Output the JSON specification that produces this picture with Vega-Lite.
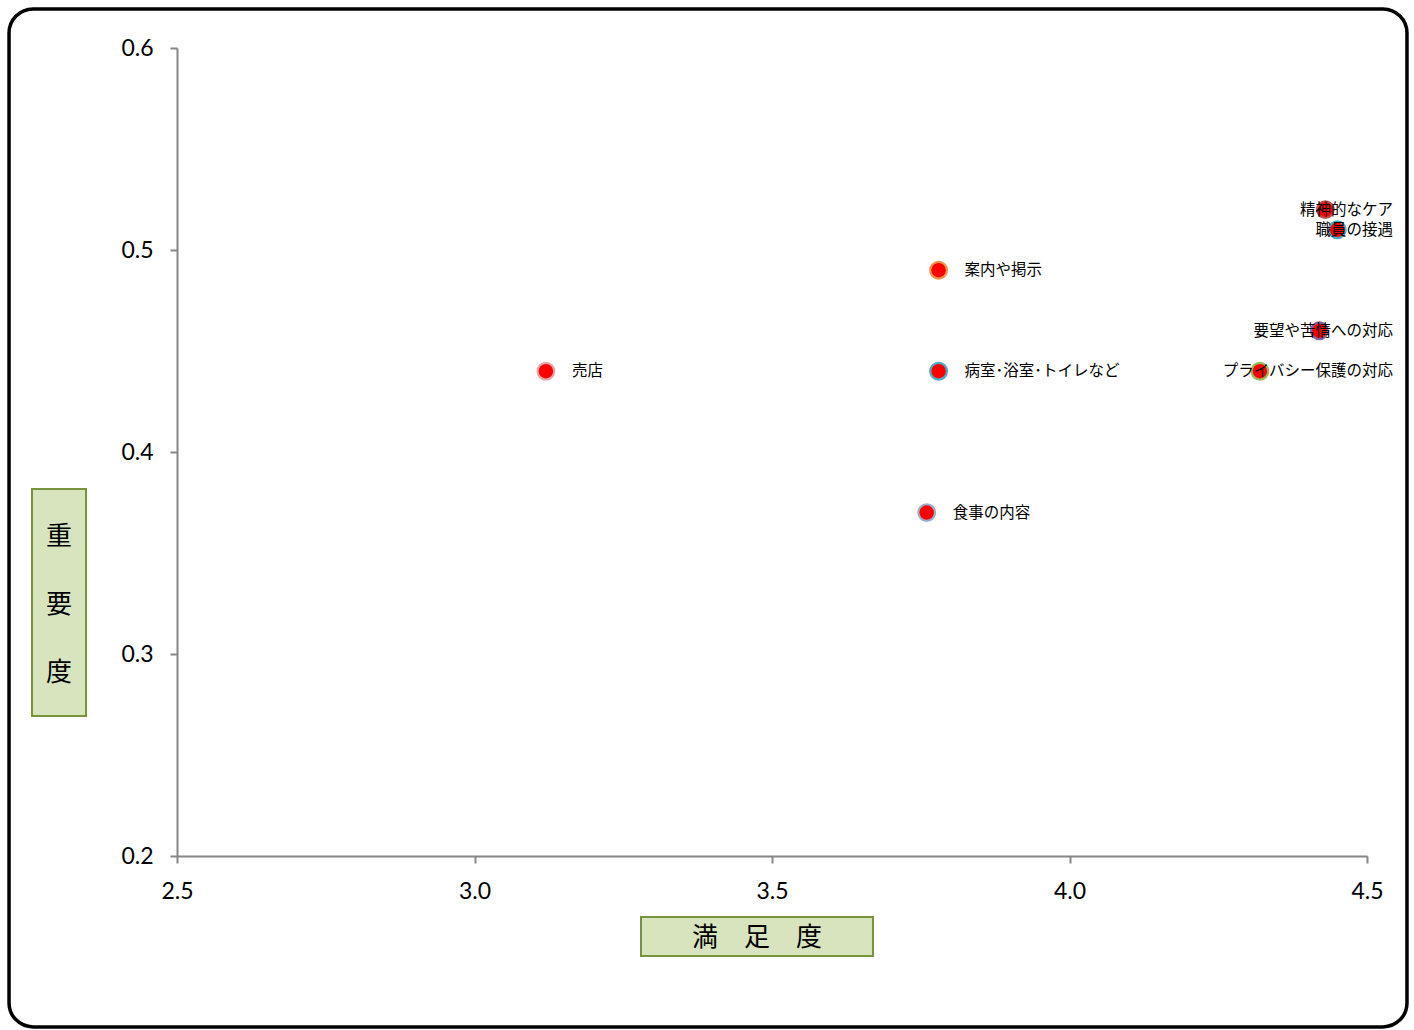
{
  "$schema": "https://vega.github.io/schema/vega-lite/v6.json",
  "width": 1190,
  "height": 808,
  "autosize": {"type": "none"},
  "padding": {"left": 177, "top": 48, "right": 47, "bottom": 174},
  "background": "white",
  "config": {
    "view": {"stroke": null},
    "axis": {
      "grid": false,
      "domainColor": "#868686",
      "domainWidth": 2,
      "tickColor": "#868686",
      "tickWidth": 2,
      "tickSize": 7,
      "labelFont": "Lato",
      "labelFontSize": 23,
      "labelColor": "#000000",
      "labelFlush": false,
      "labelOverlap": false
    }
  },
  "data": {
    "values": [
      {"item": "食事の内容", "satisfaction": 3.76, "importance": 0.37},
      {"item": "売店", "satisfaction": 3.12, "importance": 0.44},
      {"item": "精神的なケア", "satisfaction": 4.43, "importance": 0.52},
      {"item": "職員の接遇", "satisfaction": 4.45, "importance": 0.51},
      {"item": "要望や苦情への対応", "satisfaction": 4.42, "importance": 0.46},
      {"item": "プライバシー保護の対応", "satisfaction": 4.32, "importance": 0.44},
      {"item": "案内や掲示", "satisfaction": 3.78, "importance": 0.49},
      {"item": "病室･浴室･トイレなど", "satisfaction": 3.78, "importance": 0.44}
    ]
  },
  "layer": [
    {
      "data": {"values": [{}]},
      "mark": {"type": "rect", "fill": null, "stroke": "#000000", "strokeWidth": 3.5, "cornerRadius": 24},
      "encoding": {
        "x": {"datum": 2.2177, "type": "quantitative", "title": null},
        "x2": {"datum": 4.5672},
        "y": {"datum": 0.6193, "type": "quantitative", "title": null},
        "y2": {"datum": 0.1154}
      }
    },
    {
      "data": {"values": [{}]},
      "mark": {"type": "rect", "fill": "#d7e4bd", "stroke": "#77933c", "strokeWidth": 2},
      "encoding": {
        "x": {"datum": 3.2798, "type": "quantitative", "title": null},
        "x2": {"datum": 3.6697},
        "y": {"datum": 0.1698, "type": "quantitative", "title": null},
        "y2": {"datum": 0.1505}
      }
    },
    {
      "data": {"values": [{}]},
      "mark": {"type": "rect", "fill": "#d7e4bd", "stroke": "#77933c", "strokeWidth": 2},
      "encoding": {
        "x": {"datum": 2.2563, "type": "quantitative", "title": null},
        "x2": {"datum": 2.3471},
        "y": {"datum": 0.3817, "type": "quantitative", "title": null},
        "y2": {"datum": 0.2693}
      }
    },
    {
      "data": {"values": [{}]},
      "mark": {"type": "text", "text": "満　足　度", "font": "Noto Sans CJK JP", "fontSize": 26, "color": "#000000", "align": "center", "baseline": "middle"},
      "encoding": {
        "x": {"datum": 3.4748, "type": "quantitative", "title": null},
        "y": {"datum": 0.1592, "type": "quantitative", "title": null}
      }
    },
    {
      "data": {"values": [{}]},
      "mark": {"type": "text", "text": ["重", "要", "度"], "lineHeight": 68, "font": "Noto Sans CJK JP", "fontSize": 26, "color": "#000000", "align": "center", "baseline": "middle"},
      "encoding": {
        "x": {"datum": 2.3017, "type": "quantitative", "title": null},
        "y": {"datum": 0.3579, "type": "quantitative", "title": null}
      }
    },
    {
      "mark": {"type": "point", "filled": false, "shape": "circle", "size": 280, "fill": "#ff0000", "fillOpacity": 1, "strokeWidth": 2.2, "opacity": 1},
      "encoding": {
        "x": {
          "field": "satisfaction",
          "type": "quantitative",
          "scale": {"domain": [2.5, 4.5], "nice": false, "zero": false},
          "axis": {"title": null, "values": [2.5, 3.0, 3.5, 4.0, 4.5], "format": ".1f", "labelPadding": 17}
        },
        "y": {
          "field": "importance",
          "type": "quantitative",
          "scale": {"domain": [0.2, 0.6], "nice": false, "zero": false},
          "axis": {"title": null, "values": [0.2, 0.3, 0.4, 0.5, 0.6], "format": ".1f", "labelPadding": 17}
        },
        "stroke": {
          "field": "item",
          "type": "nominal",
          "legend": null,
          "scale": {
            "domain": ["食事の内容", "売店", "精神的なケア", "職員の接遇", "要望や苦情への対応", "プライバシー保護の対応", "案内や掲示", "病室･浴室･トイレなど"],
            "range": ["#9aaed0", "#e8a6a6", "#c0504d", "#4bacc6", "#8064a2", "#9bbb59", "#f79646", "#4bacc6"]
          }
        }
      }
    },
    {
      "transform": [{"filter": "datum.satisfaction < 4"}],
      "mark": {"type": "text", "align": "left", "baseline": "middle", "dx": 26, "font": "Noto Sans CJK JP", "fontSize": 15.5, "color": "#000000"},
      "encoding": {
        "x": {"field": "satisfaction", "type": "quantitative"},
        "y": {"field": "importance", "type": "quantitative"},
        "text": {"field": "item"}
      }
    },
    {
      "transform": [{"filter": "datum.satisfaction >= 4"}],
      "mark": {"type": "text", "align": "right", "baseline": "middle", "font": "Noto Sans CJK JP", "fontSize": 15.5, "color": "#000000"},
      "encoding": {
        "x": {"datum": 4.5437, "type": "quantitative"},
        "y": {"field": "importance", "type": "quantitative"},
        "text": {"field": "item"}
      }
    }
  ]
}
